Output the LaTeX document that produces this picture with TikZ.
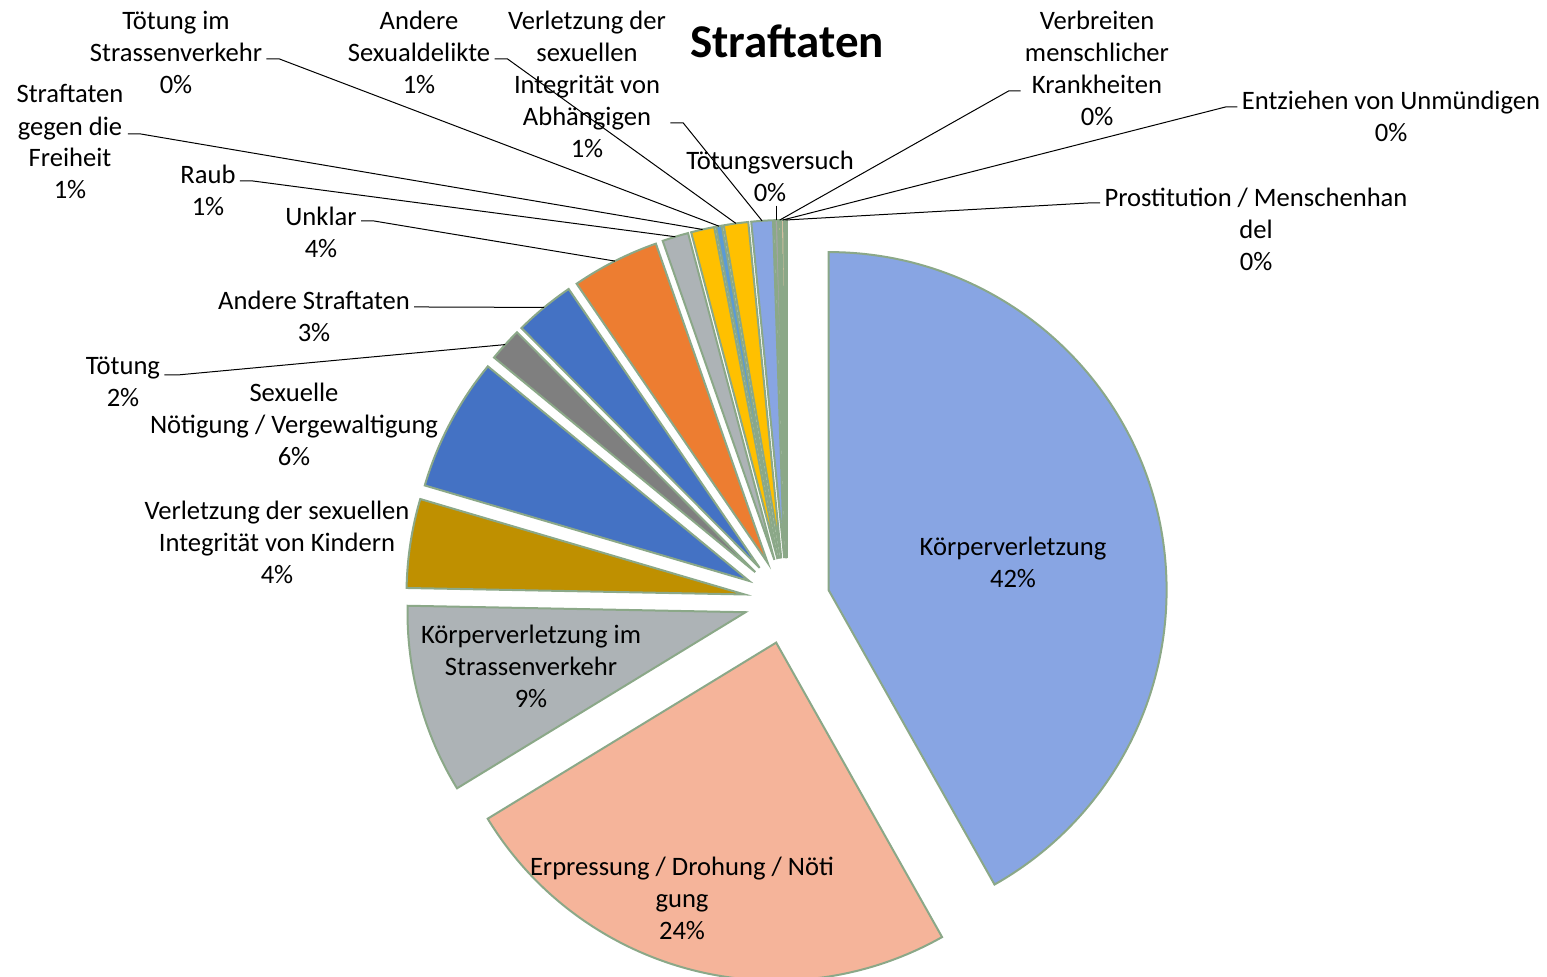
\documentclass[tikz,border=0pt]{standalone}
\usepackage{fontspec}
\setmainfont{Carlito}
\usetikzlibrary{calc}
\definecolor{kv}{HTML}{88A5E3}
\definecolor{ep}{HTML}{F5B49A}
\definecolor{ksv}{HTML}{ADB3B6}
\definecolor{kin}{HTML}{BF9000}
\definecolor{blu}{HTML}{4472C4}
\definecolor{tot}{HTML}{7F7F7F}
\definecolor{unk}{HTML}{ED7D31}
\definecolor{gol}{HTML}{FFC000}
\definecolor{tsv}{HTML}{5B9BD5}
\definecolor{tvs}{HTML}{A5A5A5}
\definecolor{pea}{HTML}{FFD699}
\definecolor{apr}{HTML}{F8CBAD}
\definecolor{grn}{HTML}{A9D18E}
\definecolor{rim}{HTML}{8BA888}
\begin{document}
\begin{tikzpicture}[x=0.5pt, y=0.5pt, font=\fontsize{13.3}{16}\selectfont,
    slice/.style={draw=rim, line width=1pt, fill=#1},
    lbl/.style={align=center, inner sep=2pt},
    leader/.style={draw=black, line width=0.5pt}]
    \useasboundingbox (0,0) rectangle (1547,-977);
    \coordinate (C) at (787,-601);
    % slices, clockwise from the top, each pulled out from the centre
    \foreach \a/\b/\c [count=\i] in {90/-60.6/kv, -60.6/-148.6/ep, -148.6/-181.1/ksv,
        -181.1/-196.4/kin, -196.4/-219.4/blu, -219.4/-225.2/tot, -225.2/-235.6/blu,
        -235.6/-250.7/unk, -250.7/-255.2/ksv, -255.2/-259.2/gol, -259.2/-260.2/tsv,
        -260.2/-264.4/gol, -264.4/-268.1/kv, -268.1/-268.7/tvs, -268.7/-269.1/pea,
        -269.1/-269.6/apr, -269.6/-270/grn} {
        \pgfmathsetmacro\m{(\a+\b)/2}
        \draw[slice=\c] ($(C)+(\m:43)$) coordinate (o\i) -- +(\a:338)
            arc[start angle=\a, end angle=\b, radius=338] -- cycle;
        \coordinate (s\i) at ($(o\i)+(\m:338)$);
    }
    \node[font=\bfseries\fontsize{23.5}{28}\selectfont] (title) at (787,-41) {Straftaten};
    \node[lbl] (l1) at (1013,-562) {Körperverletzung\\42\%};
    \node[lbl] (l2) at (682,-898) {Erpressung / Drohung / Nöti\\gung\\24\%};
    \node[lbl] (l3) at (531,-666) {Körperverletzung im\\Strassenverkehr\\9\%};
    \node[lbl] (l4) at (277,-542) {Verletzung der sexuellen\\Integrität von Kindern\\4\%};
    \node[lbl] (l5) at (294,-424) {Sexuelle\\Nötigung / Vergewaltigung\\6\%};
    \node[lbl] (l6) at (123,-382) {Tötung\\2\%};
    \node[lbl] (l7) at (314,-316) {Andere Straftaten\\3\%};
    \node[lbl] (l8) at (321,-232) {Unklar\\4\%};
    \node[lbl] (l9) at (208,-190) {Raub\\1\%};
    \node[lbl] (l10) at (70,-142) {Straftaten\\gegen die\\Freiheit\\1\%};
    \node[lbl] (l11) at (176,-52) {Tötung im\\Strassenverkehr\\0\%};
    \node[lbl] (l12) at (419,-52) {Andere\\Sexualdelikte\\1\%};
    \node[lbl] (l13) at (587,-84) {Verletzung der\\sexuellen\\Integrität von\\Abhängigen\\1\%};
    \node[lbl] (l14) at (770,-176) {Tötungsversuch\\0\%};
    \node[lbl] (l15) at (1097,-68) {Verbreiten\\menschlicher\\Krankheiten\\0\%};
    \node[lbl] (l16) at (1391,-116) {Entziehen von Unmündigen\\0\%};
    \node[lbl] (l17) at (1256,-229) {Prostitution / Menschenhan\\del\\0\%};
    % leader lines
    \draw[leader] ([yshift=3.5pt]l6.east) -- +(13,0) -- (s6);
    \draw[leader] ([yshift=4.5pt]l7.east) -- +(13,0) -- (s7);
    \draw[leader] ([yshift=5.5pt]l8.east) -- +(13,0) -- (s8);
    \draw[leader] ([yshift=4.5pt]l9.east) -- +(13,0) -- (s9);
    \draw[leader] ([yshift=4pt]l10.east) -- +(13,0) -- (s10);
    \draw[leader] ([yshift=-3.5pt]l11.east) -- +(13,0) -- (s11);
    \draw[leader] ([yshift=-3.5pt]l12.east) -- +(13,0) -- (s12);
    \draw[leader] ([yshift=-19.5pt]l13.east) -- +(13,0) -- (s13);
    \draw[leader] (s14 |- l14.south) -- (s14);
    \draw[leader] ([yshift=-11.5pt]l15.west) -- +(-12,0) -- (s15);
    \draw[leader] ([yshift=4.5pt]l16.west) -- +(-12,0) -- (s16);
    \draw[leader] ([yshift=13pt]l17.west) -- +(-12,0) -- (s17);
\end{tikzpicture}
\end{document}
